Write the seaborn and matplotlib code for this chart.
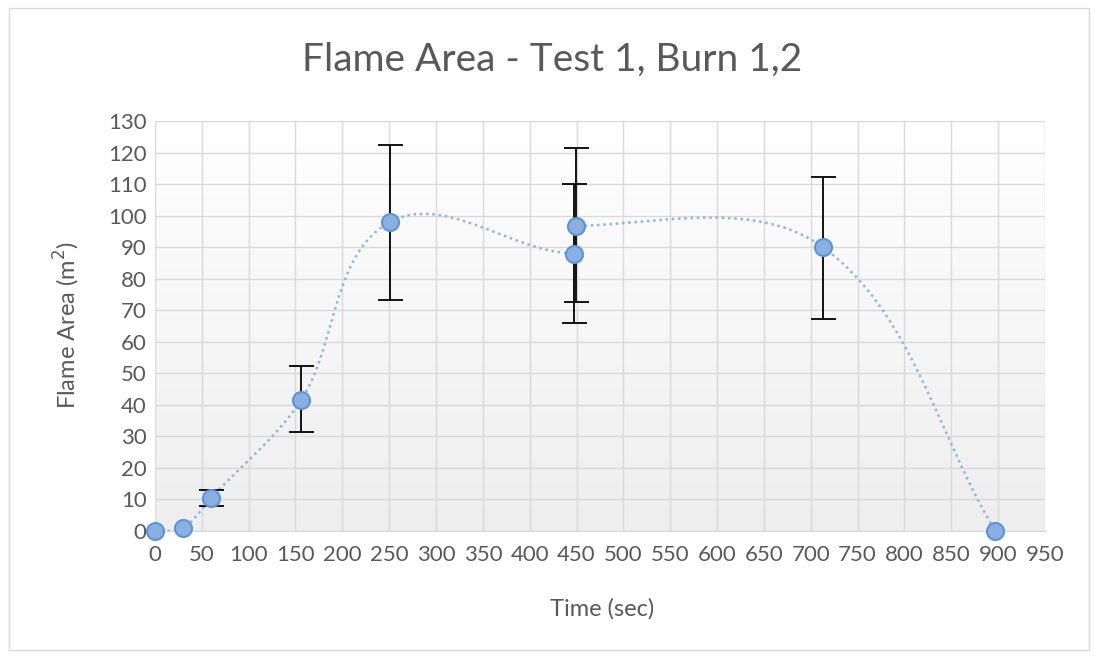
import numpy as np
import pandas as pd
import matplotlib
matplotlib.use("Agg")
import matplotlib.pyplot as plt
import seaborn as sns
from matplotlib.patches import Rectangle
from matplotlib.colors import LinearSegmentedColormap

# Data
time_sec = [0, 30, 60, 156, 251, 447, 449, 713, 897]
flame_area = [0, 1, 10.5, 41.5, 98, 88, 96.7, 90, 0]
err_up = [0, 0, 2.5, 10.8, 24.4, 22, 24.7, 22.2, 0]
err_down = [0, 0, 2.5, 10.1, 24.8, 22, 24.1, 22.8, 0]

x_ticks = list(range(0, 951, 50))
y_ticks = list(range(0, 131, 10))

df = pd.DataFrame({"time": time_sec, "area": flame_area,
                   "up": err_up, "down": err_down})
has_err = df[(df["up"] > 0) | (df["down"] > 0)]

sns.set_style("whitegrid")
plt.rcParams["font.family"] = ["Lato", "DejaVu Sans"]
txt_color = "#595959"

fig = plt.figure(figsize=(10.96, 6.58), dpi=100)
ax = fig.add_axes([0.1414, 0.193, 0.812, 0.623])

# background gradient like the Excel plot area
grad = np.linspace(0, 1, 256).reshape(-1, 1)
ax.imshow(grad, extent=[0, 950, 0, 130], aspect="auto",
          cmap=LinearSegmentedColormap.from_list("g", ["#ffffff", "#eeeeee"]),
          origin="upper", zorder=0)


# smoothed line through the points (Bezier, tangents scaled by chord length)
def smooth(xs, ys, n=60):
    sc = np.array([890 / 950, 410 / 130])  # work in pixel-like units
    pts = np.column_stack([xs, ys]).astype(float) * sc
    out = []
    m = len(pts)
    for i in range(m - 1):
        p0 = pts[max(i - 1, 0)]
        p1 = pts[i]
        p2 = pts[i + 1]
        p3 = pts[min(i + 2, m - 1)]
        seg_len = np.linalg.norm(p2 - p1)
        d1 = p2 - p0
        d2 = p3 - p1
        l1 = np.linalg.norm(d1)
        l2 = np.linalg.norm(d2)
        c1 = p1 + (d1 / l1 if l1 else 0) * seg_len / 3
        c2 = p2 - (d2 / l2 if l2 else 0) * seg_len / 3
        t = np.linspace(0, 1, n)[:, None]
        seg = (1 - t) ** 3 * p1 + 3 * (1 - t) ** 2 * t * c1 + 3 * (1 - t) * t ** 2 * c2 + t ** 3 * p2
        out.append(seg)
    curve = np.vstack(out) / sc
    return curve[:, 0], curve[:, 1]


sx, sy = smooth(df["time"], df["area"])
ax.plot(sx, sy, linestyle=(0, (1, 1.5)), color="#8fb4e0", linewidth=1.8, zorder=2)

ax.errorbar(has_err["time"], has_err["area"], yerr=[has_err["down"], has_err["up"]],
            fmt="none", ecolor="black", elinewidth=1.3, capsize=9, capthick=1.3, zorder=3)

sns.scatterplot(data=df, x="time", y="area", ax=ax, s=150, color="#8ab0e2",
                edgecolor="#5f93d3", linewidth=1.5, zorder=4, clip_on=False)

ax.set_xlim(0, 950)
ax.set_ylim(0, 130)
ax.set_xticks(x_ticks)
ax.set_yticks(y_ticks)
ax.grid(True, color="#d9d9d9", linewidth=1)
ax.tick_params(axis="both", length=0, labelsize=16, labelcolor=txt_color)
ax.tick_params(axis="x", pad=10)
ax.tick_params(axis="y", pad=6)
for side in ["top", "right", "left"]:
    ax.spines[side].set_visible(False)
ax.spines["bottom"].set_color("#d9d9d9")

ax.set_xlabel("")
ax.set_ylabel("")
fig.text(602 / 1096, 1 - 609 / 658, "Time (sec)", ha="center", va="center",
         fontsize=17, color=txt_color)
fig.text(67 / 1096, 1 - 325 / 658, "Flame Area (m$^2$)", ha="center", va="center",
         rotation=90, fontsize=17, color=txt_color)
fig.text(552 / 1096, 1 - 60 / 658, "Flame Area - Test 1, Burn 1,2", ha="center", va="center",
         fontsize=28, color=txt_color)

fig.patches.append(Rectangle((0.008, 0.012), 0.986, 0.976, transform=fig.transFigure,
                             fill=False, edgecolor="#d9d9d9", linewidth=1))

fig.savefig("out.png", dpi=100)
